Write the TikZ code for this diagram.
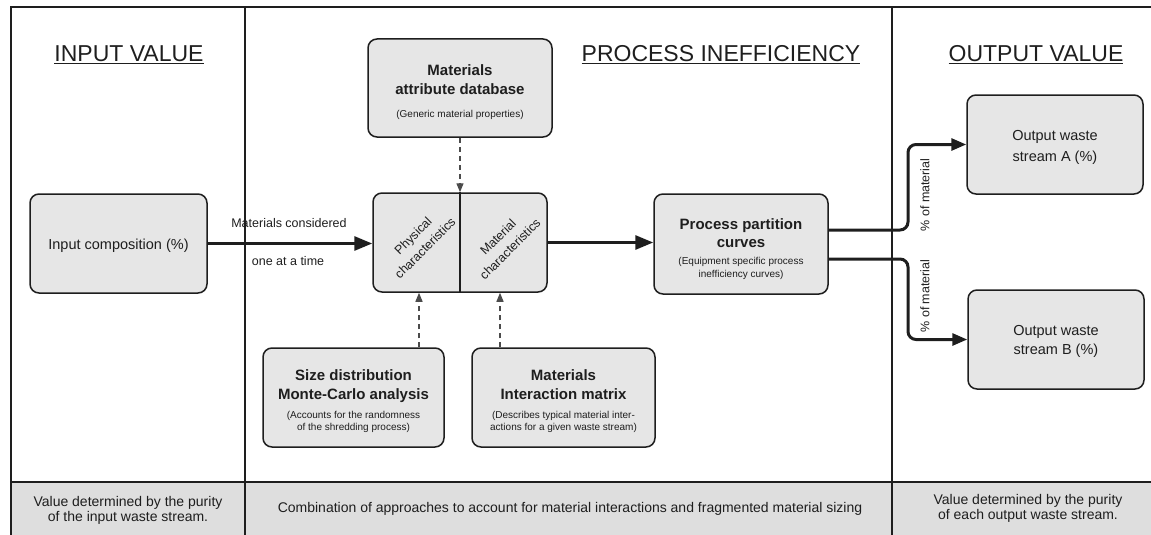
\documentclass[tikz,border=0pt]{standalone}
\usepackage{fontspec}
\setmainfont{Liberation Sans}
\usetikzlibrary{arrows.meta,calc}
\definecolor{boxgray}{HTML}{E6E6E6}
\definecolor{bandgray}{HTML}{DEDEDE}
\definecolor{ink}{HTML}{1E1E1E}
\newcommand{\fhead}{\fontsize{23}{27}\selectfont}
\newcommand{\fbig}{\fontsize{14.5}{17}\selectfont}
\newcommand{\fttl}{\fontsize{15}{18}\selectfont\bfseries}
\newcommand{\fsml}{\fontsize{10}{12}\selectfont}
\newcommand{\flab}{\fontsize{12.5}{15}\selectfont}
\newcommand{\fchr}{\fontsize{12.5}{17}\selectfont}
\newcommand{\fbot}{\fontsize{14}{16}\selectfont}
\begin{document}
\begin{tikzpicture}[x=1pt,y=-1pt,
  box/.style={draw=ink, line width=1.5pt, rounded corners=9pt, fill=boxgray, inner sep=0pt},
  txt/.style={inner sep=0pt, anchor=base, text=ink},
  frame/.style={draw=ink, line width=1.5pt},
  flow/.style={draw=ink, line width=3pt, -{Triangle[length=18pt,width=14pt]}},
  flowb/.style={draw=ink, line width=3pt, rounded corners=8pt, -{Triangle[length=15pt,width=12pt]}},
  dep/.style={draw=ink!80, line width=1.3pt, dash pattern=on 5pt off 4pt, -{Triangle[length=9pt,width=7pt]}}]
\useasboundingbox (0,0) rectangle (1151,535);
% frame
\fill[bandgray] (11,482) rectangle (1151,535);
\draw[frame] (1151,7) -- (11,7) -- (11,535);
\draw[frame] (245,7) -- (245,535);
\draw[frame] (892,7) -- (892,535);
\draw[frame, line width=2pt] (11,482) -- (1151,482);
% headings
\node[txt, font=\fhead] (h1) at (129,62) {\underline{INPUT VALUE}};
\node[txt, font=\fhead] (h2) at (721,62) {\underline{PROCESS INEFFICIENCY}};
\node[txt, font=\fhead] (h3) at (1036,62) {\underline{OUTPUT VALUE}};
% boxes
\node[box, minimum width=177pt, minimum height=99pt] (inp) at (118.5,243.5) {};
\node[box, minimum width=184pt, minimum height=98pt] (db) at (460,88) {};
\node[box, minimum width=174pt, minimum height=99pt] (chr) at (460,242.5) {};
\node[box, minimum width=174pt, minimum height=100pt] (proc) at (741,244) {};
\node[box, minimum width=176pt, minimum height=99pt] (outA) at (1055,144.5) {};
\node[box, minimum width=176pt, minimum height=99pt] (outB) at (1056,339.5) {};
\node[box, minimum width=181pt, minimum height=99pt] (size) at (353.5,397.5) {};
\node[box, minimum width=183pt, minimum height=99pt] (mat) at (563.5,397.5) {};
\draw[ink, line width=1.5pt] (chr.north) -- (chr.south);
% box texts
\node[txt, font=\fbig] (inpt) at (118.5,249) {Input composition (\%)};
\node[txt, font=\fttl] (dbt1) at (460,75) {Materials};
\node[txt, font=\fttl] (dbt2) at (460,94) {attribute database};
\node[txt, font=\fsml] (dbt3) at (460,117) {(Generic material properties)};
\node[rotate=45, align=center, font=\fchr, inner sep=0pt, text=ink] (phys) at (419,242) {Physical\\characteristics};
\node[rotate=45, align=center, font=\fchr, inner sep=0pt, text=ink] (matc) at (504,243) {Material\\characteristics};
\node[txt, font=\fttl] (pt1) at (741,229) {Process partition};
\node[txt, font=\fttl] (pt2) at (741,247) {curves};
\node[txt, font=\fsml] (pt3) at (741,264) {(Equipment specific process};
\node[txt, font=\fsml] (pt4) at (741,277) {inefficiency curves)};
\node[txt, font=\fbig] (oa1) at (1055,140.5) {Output waste};
\node[txt, font=\fbig] (oa2) at (1055,161) {stream A (\%)};
\node[txt, font=\fbig] (ob1) at (1056,335.5) {Output waste};
\node[txt, font=\fbig] (ob2) at (1056,354.5) {stream B (\%)};
\node[txt, font=\fttl] (st1) at (353.5,380.5) {Size distribution};
\node[txt, font=\fttl] (st2) at (353.5,399.5) {Monte-Carlo analysis};
\node[txt, font=\fsml] (st3) at (353.5,418.5) {(Accounts for the randomness};
\node[txt, font=\fsml] (st4) at (353.5,430.5) {of the shredding process)};
\node[txt, font=\fttl] (mt1) at (563.5,380.5) {Materials};
\node[txt, font=\fttl] (mt2) at (563.5,399.5) {Interaction matrix};
\node[txt, font=\fsml] (mt3) at (563.5,418.5) {(Describes typical material inter-};
\node[txt, font=\fsml] (mt4) at (563.5,430.5) {actions for a given waste stream)};
% connectors
\draw[flow] (inp.east) -- (inp.east -| chr.west);
\node[txt, font=\flab] (lc1) at (289,227) {Materials considered};
\node[txt, font=\flab] (lc2) at (288,265) {one at a time};
\draw[flow] (chr.east) -- (chr.east -| proc.west);
\coordinate (kx) at (908,0);
\draw[flowb] ([yshift=14pt]proc.east) -- ([yshift=14pt]proc.east -| kx) -- (kx |- outA.west) -- (outA.west);
\draw[flowb] ([yshift=-15pt]proc.east) -- ([yshift=-15pt]proc.east -| kx) -- (kx |- outB.west) -- (outB.west);
\node[rotate=90, font=\flab, inner sep=0pt, text=ink] (pa) at (925,195) {\% of material};
\node[rotate=90, font=\flab, inner sep=0pt, text=ink] (pb) at (925,296) {\% of material};
\coordinate (xa) at (419,0);
\coordinate (xb) at (500,0);
\draw[dep] (db.south) -- (chr.north);
\draw[dep] (size.north -| xa) -- (chr.south -| xa);
\draw[dep] (mat.north -| xb) -- (chr.south -| xb);
% bottom band texts
\node[txt, font=\fbot] (b1) at (128,506) {Value determined by the purity};
\node[txt, font=\fbot] (b2) at (128,521) {of the input waste stream.};
\node[txt, font=\fbot] (b3) at (570,512) {Combination of approaches to account for material interactions and fragmented material sizing};
\node[txt, font=\fbot] (b4) at (1028,504) {Value determined by the purity};
\node[txt, font=\fbot] (b5) at (1028,519) {of each output waste stream.};
\end{tikzpicture}
\end{document}
